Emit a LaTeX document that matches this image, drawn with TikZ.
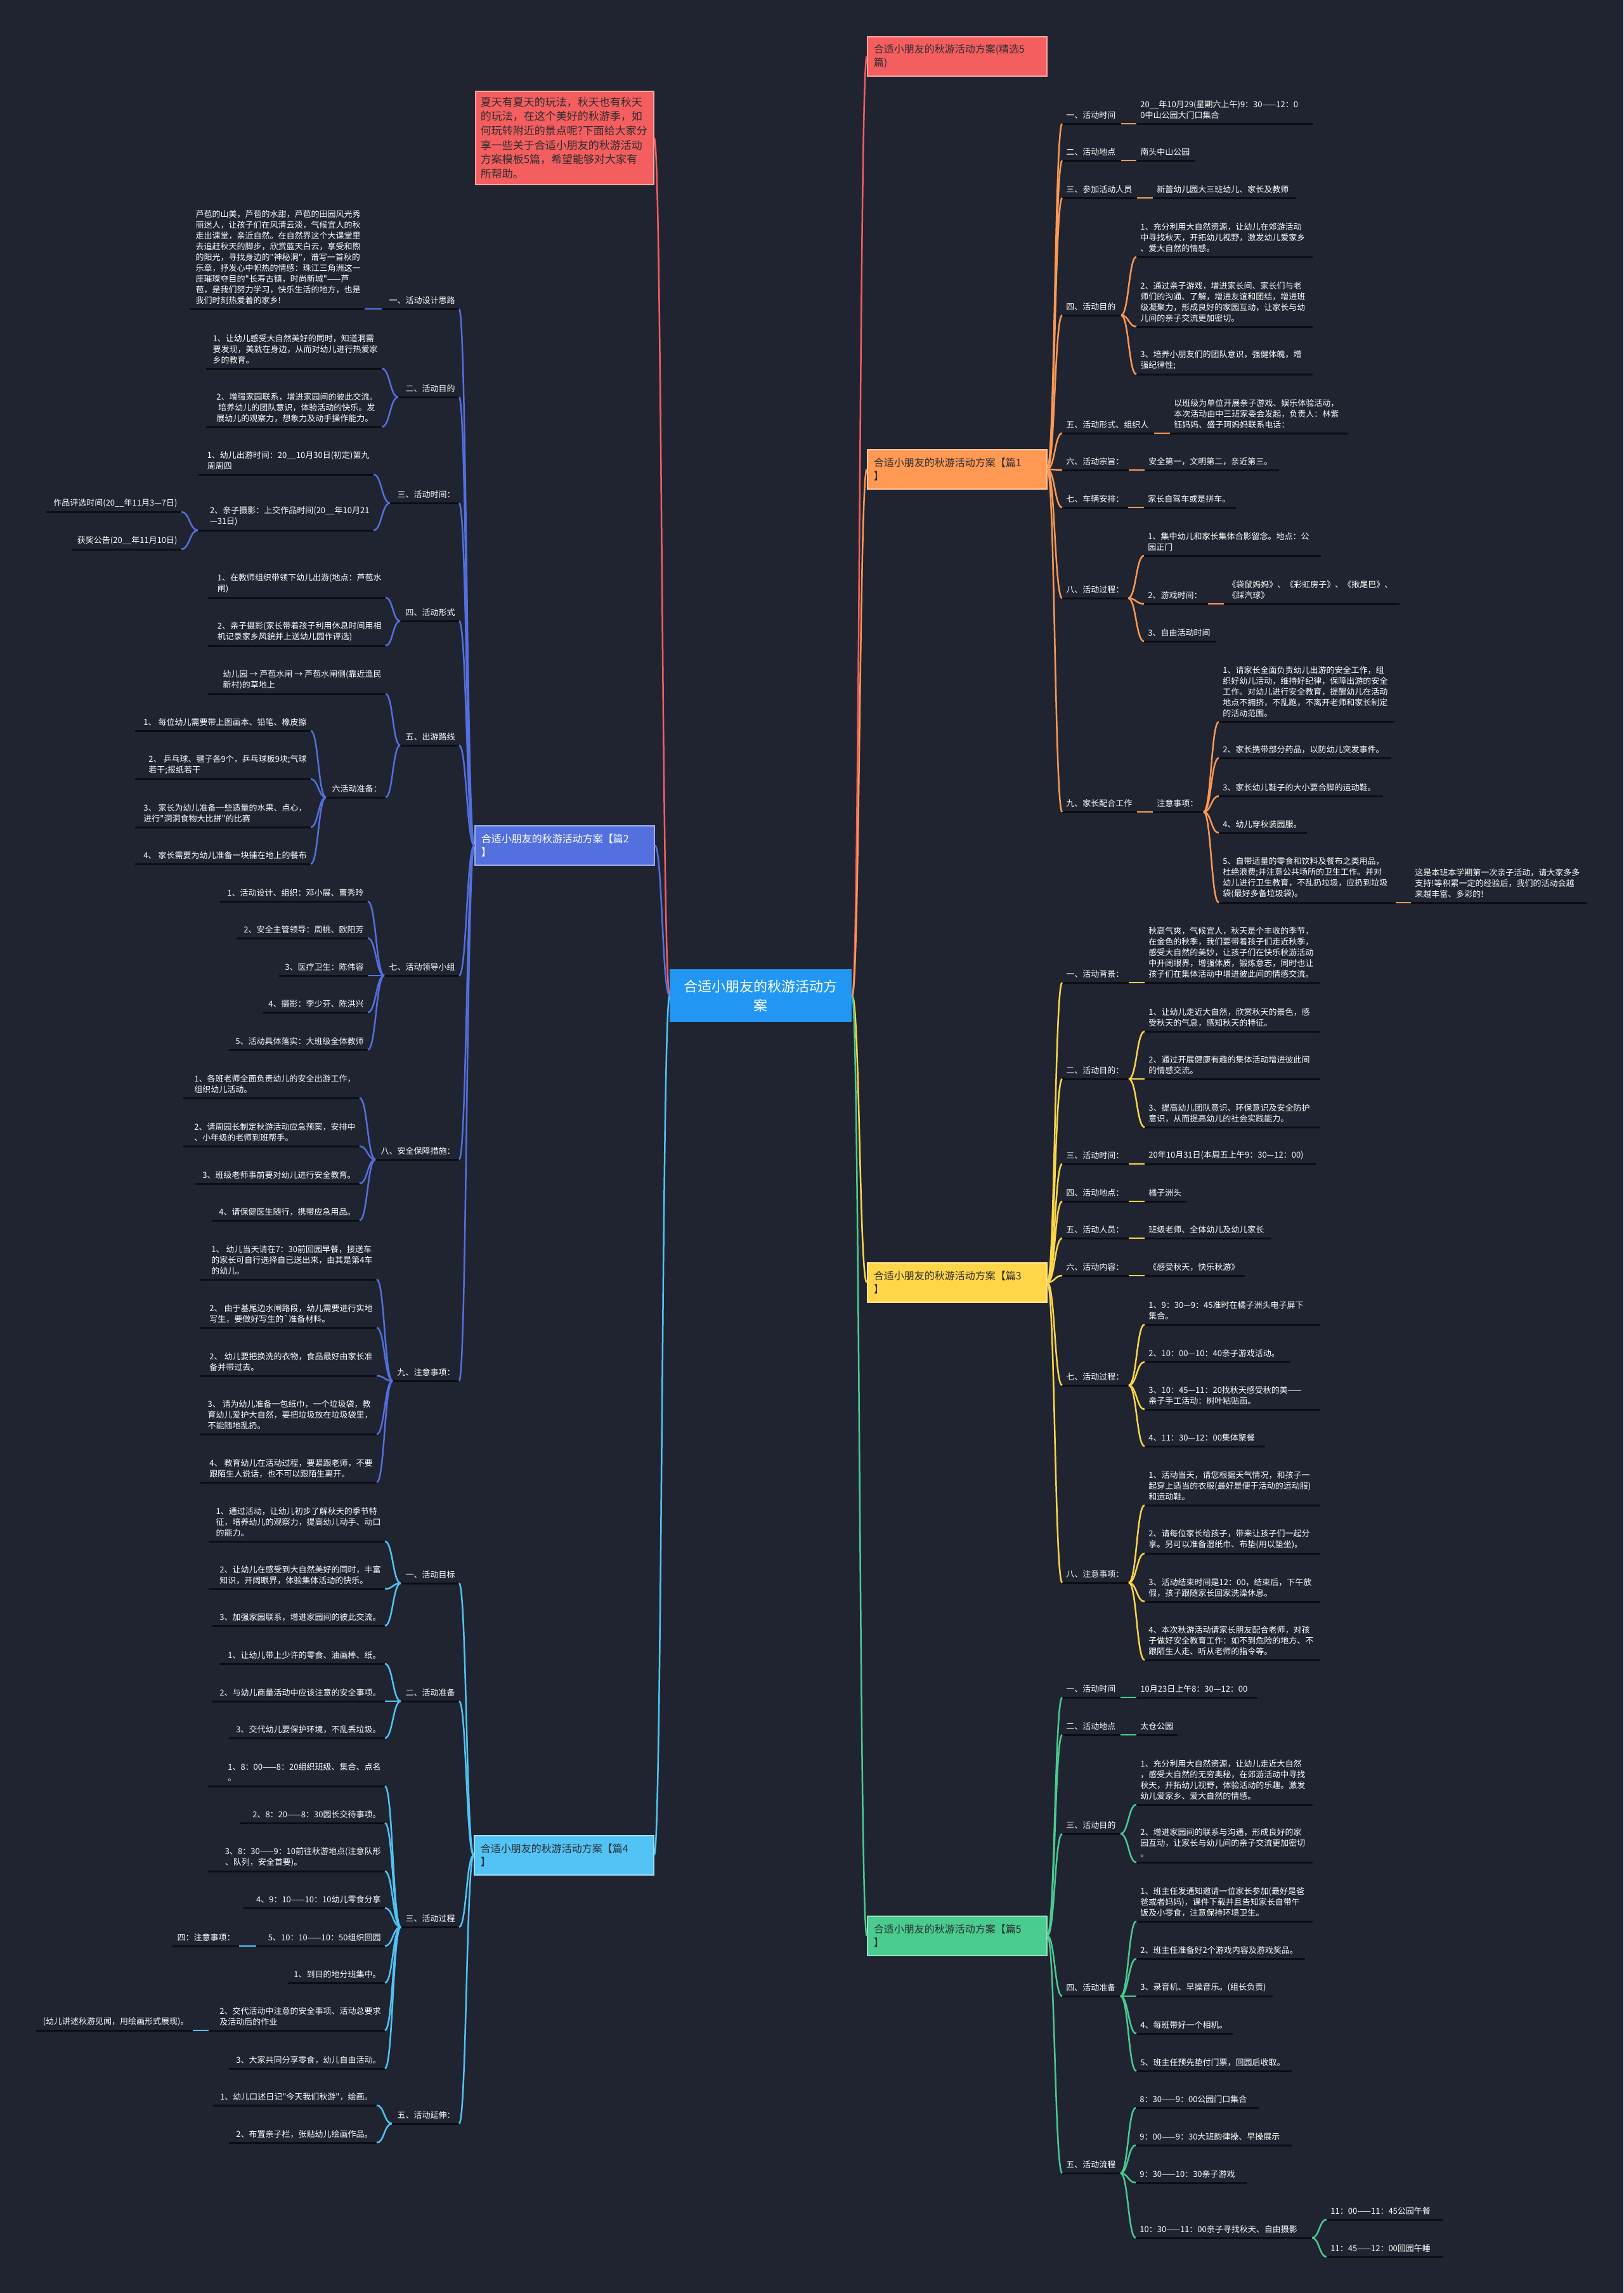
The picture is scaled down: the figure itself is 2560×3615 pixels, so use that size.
\documentclass[tikz,border=0pt]{standalone}
\usepackage{fontspec}
\newfontfamily\cjk{Noto Sans CJK SC}
\usetikzlibrary{calc}
\definecolor{bg}{RGB}{32,36,49}
\definecolor{ulc}{RGB}{12,13,18}
\definecolor{tdark}{RGB}{45,45,50}
\definecolor{cRed}{RGB}{245,94,94}
\definecolor{cOrg}{RGB}{255,153,84}
\definecolor{cYel}{RGB}{255,214,72}
\definecolor{cGrn}{RGB}{74,203,143}
\definecolor{cBlu}{RGB}{83,112,222}
\definecolor{cLbl}{RGB}{82,195,245}
\definecolor{cCen}{RGB}{33,150,243}
\tikzset{
  ul/.style={draw=ulc,line width=1.5pt},
  tx/.style={text=white,inner sep=0pt,align=left,font=\cjk\fontsize{6.5}{8.5}\selectfont},
  lnk/.style={draw=#1,line width=1.25pt},
  box/.style={fill=#1,draw=white!45!#1,line width=0.8pt,anchor=north west,
    minimum width=141.5pt,minimum height=31pt,text width=131.5pt,inner xsep=5pt,
    align=left,text=tdark,font=\cjk\fontsize{8}{10.5}\selectfont},
}
\newcommand\mmR[5]{%
  \coordinate (#1l) at (#2,#4);
  \coordinate (#1r) at (#3,#4);
  \draw[ul] (#1l) -- (#1r);
  \node[tx,anchor=south west] (#1) at (#2+6,#4-7) {#5};}
\newcommand\mmL[5]{%
  \coordinate (#1l) at (#2,#4);
  \coordinate (#1r) at (#3,#4);
  \draw[ul] (#1l) -- (#1r);
  \node[tx,anchor=south east] (#1) at (#3-6,#4-7) {#5};}
\newcommand\mmC[3]{\draw[lnk=#1] let \p1=(#2), \p2=(#3) in (\p1) .. controls ({(\x1+\x2)/2},\y1) and ({(\x1+\x2)/2},\y2) .. (\p2);}
\newcommand\mmF[3]{\foreach \mmt in {#3} {\mmC{#1}{#2}{\mmt}}}
\begin{document}
\begin{tikzpicture}[x=0.5pt,y=-0.5pt]
\fill[bg] (0,0) rectangle (2560,3615);
\useasboundingbox (0,0) rectangle (2560,3615);

% ---------- center & top boxes ----------
\node[fill=cCen,anchor=north west,minimum width=143.5pt,minimum height=41.5pt,inner sep=0pt,
  align=center,text=white,font=\cjk\fontsize{11}{15}\selectfont] (ctr) at (1056,1528) {合适小朋友的秋游活动方\\案};
\node[fill=cRed,draw=white!45!cRed,line width=0.8pt,anchor=north west,minimum width=140.5pt,
  minimum height=73.5pt,text width=132.5pt,inner xsep=4pt,align=left,text=tdark,
  font=\cjk\fontsize{8.5}{11.3}\selectfont] (intro) at (749,143)
  {夏天有夏天的玩法，秋天也有秋天\\的玩法，在这个美好的秋游季，如\\何玩转附近的景点呢?下面给大家分\\享一些关于合适小朋友的秋游活动\\方案模板5篇，希望能够对大家有\\所帮助。};
\node[box=cRed] (top) at (1367,57) {合适小朋友的秋游活动方案(精选5\\篇)};
\node[box=cOrg] (p1) at (1367,708) {合适小朋友的秋游活动方案【篇1\\】};
\node[box=cYel] (p3) at (1367,1990) {合适小朋友的秋游活动方案【篇3\\】};
\node[box=cGrn] (p5) at (1367,3020) {合适小朋友的秋游活动方案【篇5\\】};
\node[box=cBlu,text=white] (p2) at (748,1301) {合适小朋友的秋游活动方案【篇2\\】};
\node[box=cLbl] (p4) at (747,2893) {合适小朋友的秋游活动方案【篇4\\】};

% ---------- 篇1 ----------
\mmR{a1}{1675}{1768}{195}{一、活动时间}
\mmR{a1c}{1792}{2071}{195}{20\_\_年10月29(星期六上午)9：30——12：0\\0中山公园大门口集合}
\mmR{a2}{1675}{1768}{253}{二、活动地点}
\mmR{a2c}{1792}{1884}{253}{南头中山公园}
\mmR{a3}{1675}{1793}{312}{三、参加活动人员}
\mmR{a3c}{1818}{2043}{312}{新蕾幼儿园大三班幼儿、家长及教师}
\mmR{a4}{1675}{1768}{497}{四、活动目的}
\mmR{a4a}{1792}{2070}{405}{1、充分利用大自然资源，让幼儿在郊游活动\\中寻找秋天，开拓幼儿视野，激发幼儿爱家乡\\、爱大自然的情感。}
\mmR{a4b}{1792}{2070}{515}{2、通过亲子游戏，增进家长间、家长们与老\\师们的沟通、了解，增进友谊和团结，增进班\\级凝聚力，形成良好的家园互动，让家长与幼\\儿间的亲子交流更加密切。}
\mmR{a4c}{1792}{2070}{590}{3、培养小朋友们的团队意识，强健体魄，增\\强纪律性;}
\mmR{a5}{1675}{1820}{683}{五、活动形式、组织人}
\mmR{a5c}{1845}{2125}{683}{以班级为单位开展亲子游戏、娱乐体验活动，\\本次活动由中三班家委会发起，负责人：林紫\\钰妈妈、盛子珂妈妈联系电话：}
\mmR{a6}{1675}{1780}{741}{六、活动宗旨：}
\mmR{a6c}{1805}{2017}{741}{安全第一，文明第二，亲近第三。}
\mmR{a7}{1675}{1779}{800}{七、车辆安排：}
\mmR{a7c}{1804}{1949}{800}{家长自驾车或是拼车。}
\mmR{a8}{1675}{1779}{943}{八、活动过程：}
\mmR{a8a}{1804}{2083}{876}{1、集中幼儿和家长集体合影留念。地点：公\\园正门}
\mmR{a8b}{1804}{1905}{952}{2、游戏时间：}
\mmR{a8bc}{1930}{2207}{952}{《袋鼠妈妈》、《彩虹房子》、《揪尾巴》、\\《踩汽球》}
\mmR{a8c}{1804}{1918}{1011}{3、自由活动时间}
\mmR{a9}{1675}{1793}{1280}{九、家长配合工作}
\mmR{a9c}{1818}{1898}{1280}{注意事项：}
\mmR{a9a}{1922}{2199}{1138}{1、请家长全面负责幼儿出游的安全工作，组\\织好幼儿活动，维持好纪律，保障出游的安全\\工作。对幼儿进行安全教育，提醒幼儿在活动\\地点不拥挤，不乱跑，不离开老师和家长制定\\的活动范围。}
\mmR{a9b}{1922}{2194}{1195}{2、家长携带部分药品，以防幼儿突发事件。}
\mmR{a9d}{1922}{2181}{1255}{3、家长幼儿鞋子的大小要合脚的运动鞋。}
\mmR{a9e}{1922}{2061}{1313}{4、幼儿穿秋装园服。}
\mmR{a9f}{1922}{2201}{1423}{5、自带适量的零食和饮料及餐布之类用品，\\杜绝浪费;并注意公共场所的卫生工作。并对\\幼儿进行卫生教育，不乱扔垃圾，应扔到垃圾\\袋(最好多备垃圾袋)。}
\mmR{a9g}{2225}{2503}{1423}{这是本班本学期第一次亲子活动，请大家多多\\支持!等积累一定的经验后，我们的活动会越\\来越丰富、多彩的!}

% ---------- 篇3 ----------
\mmR{b1}{1675}{1780}{1549}{一、活动背景：}
\mmR{b1c}{1805}{2082}{1549}{秋高气爽，气候宜人，秋天是个丰收的季节，\\在金色的秋季，我们要带着孩子们走近秋季，\\感受大自然的美妙，让孩子们在快乐秋游活动\\中开阔眼界，增强体质，锻炼意志，同时也让\\孩子们在集体活动中增进彼此间的情感交流。}
\mmR{b2}{1675}{1780}{1701}{二、活动目的：}
\mmR{b2a}{1805}{2082}{1626}{1、让幼儿走近大自然，欣赏秋天的景色，感\\受秋天的气息，感知秋天的特征。}
\mmR{b2b}{1805}{2082}{1701}{2、通过开展健康有趣的集体活动增进彼此间\\的情感交流。}
\mmR{b2c}{1805}{2082}{1777}{3、提高幼儿团队意识、环保意识及安全防护\\意识，从而提高幼儿的社会实践能力。}
\mmR{b3}{1675}{1780}{1835}{三、活动时间：}
\mmR{b3c}{1805}{2075}{1835}{20年10月31日(本周五上午9：30—12：00)}
\mmR{b4}{1675}{1780}{1894}{四、活动地点：}
\mmR{b4c}{1805}{1871}{1894}{橘子洲头}
\mmR{b5}{1675}{1780}{1952}{五、活动人员：}
\mmR{b5c}{1805}{2004}{1952}{班级老师、全体幼儿及幼儿家长}
\mmR{b6}{1675}{1780}{2011}{六、活动内容：}
\mmR{b6c}{1805}{1963}{2011}{《感受秋天，快乐秋游》}
\mmR{b7}{1675}{1780}{2184}{七、活动过程：}
\mmR{b7a}{1805}{2082}{2088}{1、9：30—9：45准时在橘子洲头电子屏下\\集合。}
\mmR{b7b}{1805}{2035}{2147}{2、10：00—10：40亲子游戏活动。}
\mmR{b7c}{1805}{2082}{2222}{3、10：45—11：20找秋天感受秋的美——\\亲子手工活动：树叶粘贴画。}
\mmR{b7d}{1805}{1995}{2280}{4、11：30—12：00集体聚餐}
\mmR{b8}{1675}{1780}{2495}{八、注意事项：}
\mmR{b8a}{1805}{2082}{2373}{1、活动当天，请您根据天气情况，和孩子一\\起穿上适当的衣服(最好是便于活动的运动服)\\和运动鞋。}
\mmR{b8b}{1805}{2082}{2449}{2、请每位家长给孩子，带来让孩子们一起分\\享。另可以准备湿纸巾、布垫(用以垫坐)。}
\mmR{b8c}{1805}{2082}{2525}{3、活动结束时间是12：00，结束后，下午放\\假，孩子跟随家长回家洗澡休息。}
\mmR{b8d}{1805}{2082}{2617}{4、本次秋游活动请家长朋友配合老师，对孩\\子做好安全教育工作：如不到危险的地方、不\\跟陌生人走、听从老师的指令等。}

% ---------- 篇5 ----------
\mmR{c1}{1675}{1767}{2676}{一、活动时间}
\mmR{c1c}{1792}{1983}{2676}{10月23日上午8：30—12：00}
\mmR{c2}{1675}{1767}{2735}{二、活动地点}
\mmR{c2c}{1792}{1857}{2735}{太仓公园}
\mmR{c3}{1675}{1767}{2891}{三、活动目的}
\mmR{c3a}{1792}{2070}{2845}{1、充分利用大自然资源，让幼儿走近大自然\\，感受大自然的无穷奥秘，在郊游活动中寻找\\秋天，开拓幼儿视野，体验活动的乐趣。激发\\幼儿爱家乡、爱大自然的情感。}
\mmR{c3b}{1792}{2070}{2936}{2、增进家园间的联系与沟通，形成良好的家\\园互动，让家长与幼儿间的亲子交流更加密切\\。}
\mmR{c4}{1675}{1767}{3147}{四、活动准备}
\mmR{c4a}{1792}{2070}{3029}{1、班主任发通知邀请一位家长参加(最好是爸\\爸或者妈妈)，课件下载并且告知家长自带午\\饭及小零食，注意保持环境卫生。}
\mmR{c4b}{1792}{2058}{3088}{2、班主任准备好2个游戏内容及游戏奖品。}
\mmR{c4c}{1792}{2007}{3147}{3、录音机、早操音乐。(组长负责)}
\mmR{c4d}{1792}{1944}{3206}{4、每班带好一个相机。}
\mmR{c4e}{1792}{2037}{3265}{5、班主任预先垫付门票，回园后收取。}
\mmR{c5}{1675}{1767}{3426}{五、活动流程}
\mmR{c5a}{1791}{1985}{3323}{8：30——9：00公园门口集合}
\mmR{c5b}{1791}{2038}{3382}{9：00——9：30大班韵律操、早操展示}
\mmR{c5c}{1791}{1966}{3441}{9：30——10：30亲子游戏}
\mmR{c5d}{1791}{2069}{3528}{10：30——11：00亲子寻找秋天、自由摄影}
\mmR{c5e}{2092}{2276}{3499}{11：00——11：45公园午餐}
\mmR{c5f}{2092}{2276}{3558}{11：45——12：00回园午睡}

% ---------- 篇2 ----------
\mmL{d1}{602}{724}{487}{一、活动设计思路}
\mmL{d1c}{299}{575}{487}{芦苞的山美，芦苞的水甜，芦苞的田园风光秀\\丽迷人，让孩子们在风清云淡，气候宜人的秋\\走出课堂，亲近自然。在自然界这个大课堂里\\去追赶秋天的脚步，欣赏蓝天白云，享受和煦\\的阳光，寻找身边的"神秘洞"，谱写一首秋的\\乐章，抒发心中帜热的情感：珠江三角洲这一\\座璀璨夺目的"长寿古镇，时尚新城"——芦\\苞，是我们努力学习，快乐生活的地方，也是\\我们时刻热爱着的家乡!}
\mmL{d2}{628}{724}{626}{二、活动目的}
\mmL{d2a}{325}{602}{581}{1、让幼儿感受大自然美好的同时，知道洞需\\要发现，美就在身边，从而对幼儿进行热爱家\\乡的教育。}
\mmL{d2b}{325}{602}{673}{2、增强家园联系，增进家园间的彼此交流。\\~培养幼儿的团队意识，体验活动的快乐。发\\展幼儿的观察力，想象力及动手操作能力。}
\mmL{d3}{615}{724}{793}{三、活动时间：}
\mmL{d3a}{312}{589}{748}{1、幼儿出游时间：20\_\_10月30日(初定)第九\\周周四}
\mmL{d3b}{312}{589}{836}{2、亲子摄影：上交作品时间(20\_\_年10月21\\—31日)}
\mmL{d3b1}{73}{286}{807}{作品评选时间(20\_\_年11月3—7日)}
\mmL{d3b2}{113}{286}{866}{获奖公告(20\_\_年11月10日)}
\mmL{d4}{631}{724}{979}{四、活动形式}
\mmL{d4a}{328}{608}{942}{1、在教师组织带领下幼儿出游(地点：芦苞水\\闸)}
\mmL{d4b}{328}{608}{1018}{2、亲子摄影(家长带着孩子利用休息时间用相\\机记录家乡风貌并上送幼儿园作评选)}
\mmL{d5}{631}{724}{1175}{五、出游路线}
\mmL{d5a}{328}{608}{1094}{幼儿园 → 芦苞水闸 → 芦苞水闸侧(靠近渔民\\新村)的草地上}
\mmL{d5b}{514}{608}{1257}{六活动准备：}
\mmL{d5b1}{213}{490}{1152}{1、 每位幼儿需要带上图画本、铅笔、橡皮擦}
\mmL{d5b2}{213}{490}{1228}{2、 乒乓球、毽子各9个，乒乓球板9块;气球\\若干;报纸若干}
\mmL{d5b3}{213}{490}{1304}{3、 家长为幼儿准备一些适量的水果、点心，\\进行"洞洞食物大比拼"的比赛}
\mmL{d5b4}{213}{490}{1362}{4、 家长需要为幼儿准备一块铺在地上的餐布}
\mmL{d7}{606}{724}{1538}{七、活动领导小组}
\mmL{d7a}{347}{580}{1421}{1、活动设计、组织：邓小展、曹秀玲}
\mmL{d7b}{374}{580}{1479}{2、安全主管领导：周桃、欧阳芳}
\mmL{d7c}{440}{580}{1538}{3、医疗卫生：陈伟容}
\mmL{d7d}{414}{580}{1596}{4、摄影：李少芬、陈洪兴}
\mmL{d7e}{361}{580}{1655}{5、活动具体落实：大班级全体教师}
\mmL{d8}{592}{724}{1828}{八、安全保障措施：}
\mmL{d8a}{289}{567}{1731}{1、各班老师全面负责幼儿的安全出游工作，\\组织幼儿活动。}
\mmL{d8b}{289}{567}{1807}{2、请周园长制定秋游活动应急预案，安排中\\、小年级的老师到班帮手。}
\mmL{d8c}{308}{567}{1866}{3、班级老师事前要对幼儿进行安全教育。}
\mmL{d8d}{334}{567}{1924}{4、请保健医生随行，携带应急用品。}
\mmL{d9}{619}{724}{2177}{九、注意事项：}
\mmL{d9a}{315}{594}{2017}{1、 幼儿当天请在7：30前回园早餐，接送车\\的家长可自行选择自已送出来，由其是第4车\\的幼儿。}
\mmL{d9b}{315}{594}{2093}{2、 由于基尾边水闸路段，幼儿需要进行实地\\写生，要做好写生的`准备材料。}
\mmL{d9c}{315}{594}{2169}{2、 幼儿要把换洗的衣物，食品最好由家长准\\备并带过去。}
\mmL{d9d}{315}{594}{2261}{3、 请为幼儿准备一包纸巾，一个垃圾袋，教\\育幼儿爱护大自然，要把垃圾放在垃圾袋里，\\不能随地乱扔。}
\mmL{d9e}{315}{594}{2337}{4、 教育幼儿在活动过程，要紧跟老师，不要\\跟陌生人说话，也不可以跟陌生离开。}

% ---------- 篇4 ----------
\mmL{e1}{632}{724}{2496}{一、活动目标}
\mmL{e1a}{329}{607}{2430}{1、通过活动，让幼儿初步了解秋天的季节特\\征，培养幼儿的观察力，提高幼儿动手、动口\\的能力。}
\mmL{e1b}{329}{607}{2505}{2、让幼儿在感受到大自然美好的同时，丰富\\知识，开阔眼界，体验集体活动的快乐。}
\mmL{e1c}{335}{607}{2563}{3、加强家园联系，增进家园间的彼此交流。}
\mmL{e2}{632}{724}{2682}{二、活动准备}
\mmL{e2a}{347}{607}{2623}{1、让幼儿带上少许的零食、油画棒、纸。}
\mmL{e2b}{334}{607}{2682}{2、与幼儿商量活动中应该注意的安全事项。}
\mmL{e2c}{361}{607}{2740}{3、交代幼儿要保护环境，不乱丢垃圾。}
\mmL{e3}{632}{724}{3038}{三、活动过程}
\mmL{e3a}{328}{607}{2816}{1、8：00——8：20组织班级、集合、点名\\。}
\mmL{e3b}{378}{607}{2874}{2、8：20——8：30园长交待事项。}
\mmL{e3c}{328}{607}{2950}{3、8：30——9：10前往秋游地点(注意队形\\、队列，安全首要)。}
\mmL{e3d}{384}{607}{3008}{4、9：10——10：10幼儿零食分享}
\mmL{e3e}{404}{607}{3068}{5、10：10——10：50组织回园}
\mmL{e3e1}{272}{377}{3068}{四：注意事项：}
\mmL{e3f}{454}{607}{3126}{1、到目的地分班集中。}
\mmL{e3g}{329}{607}{3201}{2、交代活动中注意的安全事项、活动总要求\\及活动后的作业}
\mmL{e3g1}{57}{304}{3201}{(幼儿讲述秋游见闻，用绘画形式展现)。}
\mmL{e3h}{361}{607}{3261}{3、大家共同分享零食，幼儿自由活动。}
\mmL{e5}{618}{724}{3348}{五、活动延伸：}
\mmL{e5a}{336}{594}{3319}{1、幼儿口述日记"今天我们秋游"，绘画。}
\mmL{e5b}{361}{594}{3378}{2、布置亲子栏，张贴幼儿绘画作品。}

% ---------- connectors ----------
\mmF{cRed}{ctr.east}{top.west}
\mmF{cOrg}{ctr.east}{p1.west}
\mmF{cYel}{ctr.east}{p3.west}
\mmF{cGrn}{ctr.east}{p5.west}
\mmF{cRed}{ctr.west}{intro.east}
\mmF{cBlu}{ctr.west}{p2.east}
\mmF{cLbl}{ctr.west}{p4.east}

\mmF{cOrg}{p1.east}{a1l,a2l,a3l,a4l,a5l,a6l,a7l,a8l,a9l}
\mmF{cOrg}{a1r}{a1cl}
\mmF{cOrg}{a2r}{a2cl}
\mmF{cOrg}{a3r}{a3cl}
\mmF{cOrg}{a4r}{a4al,a4bl,a4cl}
\mmF{cOrg}{a5r}{a5cl}
\mmF{cOrg}{a6r}{a6cl}
\mmF{cOrg}{a7r}{a7cl}
\mmF{cOrg}{a8r}{a8al,a8bl,a8cl}
\mmF{cOrg}{a8br}{a8bcl}
\mmF{cOrg}{a9r}{a9cl}
\mmF{cOrg}{a9cr}{a9al,a9bl,a9dl,a9el,a9fl}
\mmF{cOrg}{a9fr}{a9gl}

\mmF{cYel}{p3.east}{b1l,b2l,b3l,b4l,b5l,b6l,b7l,b8l}
\mmF{cYel}{b1r}{b1cl}
\mmF{cYel}{b2r}{b2al,b2bl,b2cl}
\mmF{cYel}{b3r}{b3cl}
\mmF{cYel}{b4r}{b4cl}
\mmF{cYel}{b5r}{b5cl}
\mmF{cYel}{b6r}{b6cl}
\mmF{cYel}{b7r}{b7al,b7bl,b7cl,b7dl}
\mmF{cYel}{b8r}{b8al,b8bl,b8cl,b8dl}

\mmF{cGrn}{p5.east}{c1l,c2l,c3l,c4l,c5l}
\mmF{cGrn}{c1r}{c1cl}
\mmF{cGrn}{c2r}{c2cl}
\mmF{cGrn}{c3r}{c3al,c3bl}
\mmF{cGrn}{c4r}{c4al,c4bl,c4cl,c4dl,c4el}
\mmF{cGrn}{c5r}{c5al,c5bl,c5cl,c5dl}
\mmF{cGrn}{c5dr}{c5el,c5fl}

\mmF{cBlu}{p2.west}{d1r,d2r,d3r,d4r,d5r,d7r,d8r,d9r}
\mmF{cBlu}{d1l}{d1cr}
\mmF{cBlu}{d2l}{d2ar,d2br}
\mmF{cBlu}{d3l}{d3ar,d3br}
\mmF{cBlu}{d3bl}{d3b1r,d3b2r}
\mmF{cBlu}{d4l}{d4ar,d4br}
\mmF{cBlu}{d5l}{d5ar,d5br}
\mmF{cBlu}{d5bl}{d5b1r,d5b2r,d5b3r,d5b4r}
\mmF{cBlu}{d7l}{d7ar,d7br,d7cr,d7dr,d7er}
\mmF{cBlu}{d8l}{d8ar,d8br,d8cr,d8dr}
\mmF{cBlu}{d9l}{d9ar,d9br,d9cr,d9dr,d9er}

\mmF{cLbl}{p4.west}{e1r,e2r,e3r,e5r}
\mmF{cLbl}{e1l}{e1ar,e1br,e1cr}
\mmF{cLbl}{e2l}{e2ar,e2br,e2cr}
\mmF{cLbl}{e3l}{e3ar,e3br,e3cr,e3dr,e3er,e3fr,e3gr,e3hr}
\mmF{cLbl}{e3el}{e3e1r}
\mmF{cLbl}{e3gl}{e3g1r}
\mmF{cLbl}{e5l}{e5ar,e5br}
\end{tikzpicture}
\end{document}
